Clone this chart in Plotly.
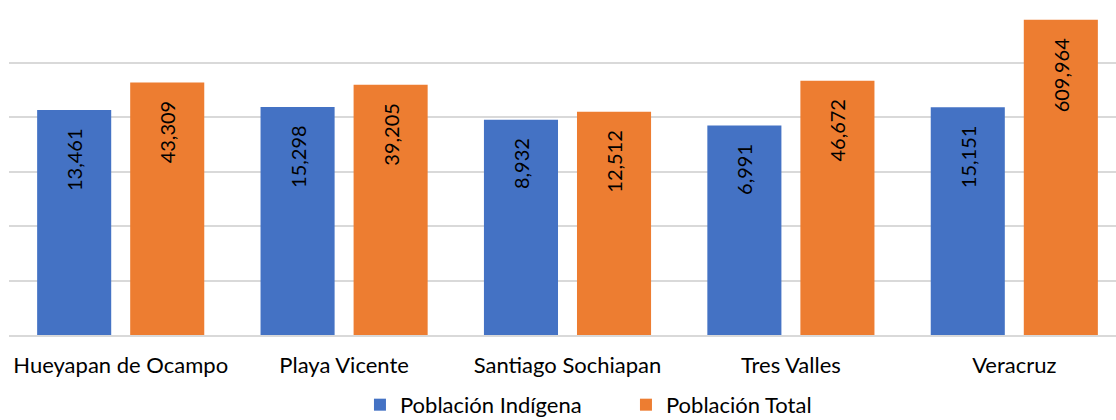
import plotly.graph_objects as go

categories = ["Hueyapan de Ocampo", "Playa Vicente", "Santiago Sochiapan", "Tres Valles", "Veracruz"]
indigena = [13461, 15298, 8932, 6991, 15151]
total = [43309, 39205, 12512, 46672, 609964]
series_names = ["Población Indígena", "Población Total"]
colors = ["#4472C4", "#ED7D31"]

FONT = "Lato"
pad = "\u00a0" * 3

def labels(vals):
    return [f"{v:,}" + pad for v in vals]

fig = go.Figure()
for name, vals, col in zip(series_names, [indigena, total], colors):
    fig.add_trace(go.Bar(
        x=categories, y=vals, name=name,
        marker=dict(color=col, line=dict(width=0)),
        text=labels(vals), textposition="inside", insidetextanchor="end",
        textangle=-90, textfont=dict(family=FONT, size=20, color="#000000"),
        constraintext="none", cliponaxis=False,
    ))

fig.update_layout(
    width=1126, height=420,
    margin=dict(l=9, r=0, t=8, b=85, autoexpand=False),
    paper_bgcolor="white", plot_bgcolor="white",
    barmode="group", bargap=0.167, bargroupgap=0.204,
    font=dict(family=FONT, size=22, color="#000000"),
    showlegend=True,
    legend=dict(orientation="h", x=0.3142, xanchor="left", y=0.036, yref="container",
                yanchor="middle", entrywidth=221, entrywidthmode="pixels",
                font=dict(family=FONT, size=22, color="#000000"),
                itemwidth=30, traceorder="normal"),
    xaxis=dict(showgrid=False, showline=True, linecolor="#d9d9d9", linewidth=2,
               ticks="", automargin=False, ticklabelstandoff=10,
               tickfont=dict(family=FONT, size=22, color="#000000")),
    yaxis=dict(type="log", range=[0, 6.003], dtick=1, showticklabels=False, automargin=False,
               showgrid=True, gridcolor="#d9d9d9", gridwidth=2, zeroline=False, ticks=""),
)

fig.write_html("out.html", config={"displayModeBar": False},
               post_script="document.body.style.margin='0';document.body.style.overflow='hidden';document.documentElement.style.overflow='hidden';")
